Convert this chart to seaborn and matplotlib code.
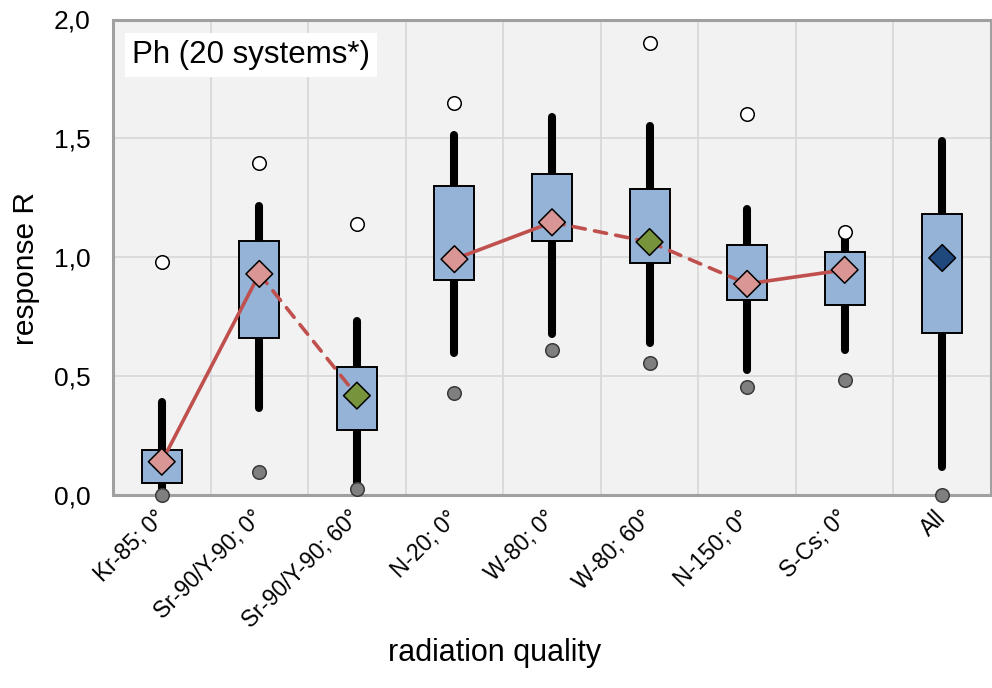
import numpy as np
import pandas as pd
import matplotlib
matplotlib.use("Agg")
import matplotlib.pyplot as plt
import seaborn as sns
from matplotlib.ticker import FuncFormatter

# ---------------- data ----------------
categories = ["Kr-85; 0°", "Sr-90/Y-90; 0°", "Sr-90/Y-90; 60°", "N-20; 0°",
              "W-80; 0°", "W-80; 60°", "N-150; 0°", "S-Cs; 0°", "All"]
q1 = [0.05, 0.66, 0.275, 0.905, 1.07, 0.975, 0.82, 0.80, 0.683]
q3 = [0.19, 1.07, 0.537, 1.30, 1.35, 1.288, 1.053, 1.02, 1.183]
whisker_low = [0.02, 0.366, 0.03, 0.597, 0.678, 0.639, 0.526, 0.608, 0.119]
whisker_high = [0.393, 1.214, 0.73, 1.516, 1.59, 1.551, 1.203, 1.10, 1.488]
means = [0.14, 0.93, 0.418, 0.992, 1.147, 1.064, 0.888, 0.947, 0.997]
maxima = [0.98, 1.397, 1.14, 1.649, np.nan, 1.902, 1.603, 1.106, np.nan]
minima = [0.0, 0.096, 0.027, 0.428, 0.61, 0.557, 0.456, 0.484, 0.0]
mean_group = ["0°", "0°", "60°", "0°", "0°", "60°", "0°", "0°", "All"]
solid_links = [(0, 1), (3, 4), (6, 7)]
dashed_links = [(1, 2), (4, 5), (5, 6)]
title_text = "Ph (20 systems*)"

# ---------------- style ----------------
sns.set_theme(style="white")
plt.rcParams["font.family"] = ["Liberation Sans", "DejaVu Sans"]

fig = plt.figure(figsize=(9.92, 6.88), dpi=100)
ax = fig.add_axes([113 / 992, 1 - 495 / 688, (991 - 113) / 992, (495 - 19.5) / 688])
ax.set_facecolor("#f2f2f2")

pos = np.arange(len(categories))
df = pd.DataFrame({"pos": pos, "cat": categories, "mean": means,
                   "max": maxima, "min": minima, "group": mean_group})

# grid
for b in np.arange(-0.5, len(categories) + 0.5, 1.0)[1:-1]:
    ax.axvline(b, color="#d9d9d9", lw=1.3, zorder=0)
for yv in [0.5, 1.0, 1.5]:
    ax.axhline(yv, color="#d9d9d9", lw=1.3, zorder=0)

# boxes + whiskers
stats = []
for i in range(len(categories)):
    stats.append(dict(med=means[i], q1=q1[i], q3=q3[i],
                      whislo=whisker_low[i], whishi=whisker_high[i], fliers=[]))
ax.bxp(stats, positions=pos, widths=0.41, patch_artist=True, showfliers=False,
       showcaps=False, manage_ticks=False,
       boxprops=dict(facecolor="#95b3d7", edgecolor="black", linewidth=1.4, zorder=2.5),
       whiskerprops=dict(color="black", linewidth=5.8, solid_capstyle="round",
                         linestyle="-", zorder=1.5),
       medianprops=dict(linewidth=0, alpha=0), zorder=2)

# connecting lines
for a, b in solid_links:
    sub = df.iloc[[a, b]]
    sns.lineplot(data=sub, x="pos", y="mean", ax=ax, color="#c0504d", lw=2.6,
                 sort=False, zorder=4, solid_capstyle="round")
for a, b in dashed_links:
    sub = df.iloc[[a, b]]
    sns.lineplot(data=sub, x="pos", y="mean", ax=ax, color="#c0504d", lw=2.6,
                 sort=False, zorder=4, linestyle=(0, (3.4, 2.6)),
                 dash_capstyle="round")

# means
sns.scatterplot(data=df, x="pos", y="mean", hue="group", ax=ax,
                palette={"0°": "#d99694", "60°": "#77933c", "All": "#1f497d"},
                marker="D", s=185, edgecolor="black", linewidth=1.1,
                legend=False, zorder=5)

# max / min
sns.scatterplot(data=df, x="pos", y="max", ax=ax, color="white", marker="o",
                s=95, edgecolor="black", linewidth=1.1, legend=False,
                zorder=6, clip_on=False)
sns.scatterplot(data=df, x="pos", y="min", ax=ax, color="#7f7f7f", marker="o",
                s=95, edgecolor="#3a3a3a", linewidth=1.1, legend=False,
                zorder=6, clip_on=False)

# axes
ax.set_xlim(-0.5, len(categories) - 0.5)
ax.set_ylim(0, 2.0)
ax.set_yticks([0, 0.5, 1.0, 1.5, 2.0])
ax.yaxis.set_major_formatter(FuncFormatter(lambda v, p: f"{v:.1f}".replace(".", ",")))
ax.set_xticks(pos)
ax.set_xticklabels(categories, rotation=45, ha="right", va="center",
                   rotation_mode="anchor", fontsize=16.5)
ax.tick_params(axis="y", length=0, pad=16, labelsize=19, colors="black")
ax.tick_params(axis="x", length=0, pad=14, colors="black")
for s in ax.spines.values():
    s.set_color("#a0a0a0")
    s.set_linewidth(2.2)
    s.set_zorder(3)

ax.set_xlabel("radiation quality", fontsize=22, color="black")
ax.set_ylabel("response R", fontsize=21.5, color="black")
ax.xaxis.set_label_coords(0.4345, -0.3)
ax.yaxis.set_label_coords(-0.083, 0.477)

ax.text(0.0216, 0.925, title_text, transform=ax.transAxes, fontsize=22.5,
        ha="left", va="center", color="black", zorder=7,
        bbox=dict(facecolor="white", edgecolor="none", pad=5))

fig.savefig("out.png", dpi=100)
